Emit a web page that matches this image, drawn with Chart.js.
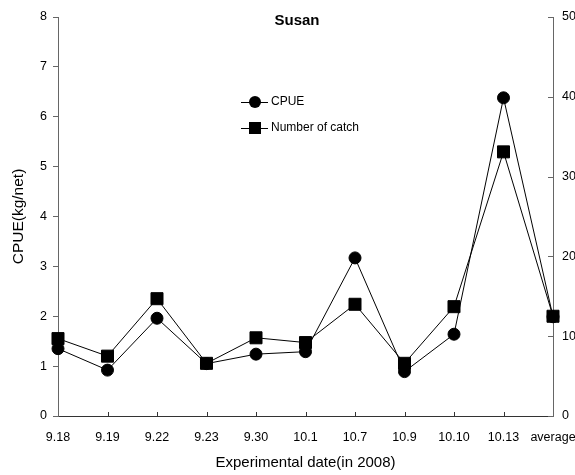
<!DOCTYPE html>
<html>
<head>
<meta charset="utf-8">
<script src="https://cdn.jsdelivr.net/npm/chart.js@4/dist/chart.umd.min.js"></script>
<style>
  html, body { margin: 0; padding: 0; background: #fff; }
  canvas { display: block; }
</style>
</head>
<body>
<canvas id="c" width="575" height="475"></canvas>
<script>
const categories = ['9.18','9.19','9.22','9.23','9.30','10.1','10.7','10.9','10.10','10.13','average'];
const cpue = [1.35, 0.92, 1.96, 1.05, 1.24, 1.29, 3.17, 0.89, 1.64, 6.38, 1.99];
const catchNumber = [9.7, 7.5, 14.7, 6.6, 9.8, 9.2, 14.0, 6.6, 13.7, 33.1, 12.5];
const chartTitle = 'Susan';
const xTitle = 'Experimental date(in 2008)';
const yTitle = 'CPUE(kg/net)';
const seriesNames = ['CPUE', 'Number of catch'];

const FONT = '"Liberation Sans", Arial, sans-serif';

const extras = {
  id: 'extras',
  afterDraw(chart) {
    const ctx = chart.ctx;
    const x = chart.scales.x;
    const y2 = chart.scales.y2;
    ctx.save();
    // inward ticks on x axis
    ctx.strokeStyle = '#333';
    ctx.lineWidth = 1;
    ctx.beginPath();
    for (let i = 1; i < categories.length - 1; i++) {
      const px = Math.round(x.getPixelForTick(i)) + 0.5;
      ctx.moveTo(px, x.top);
      ctx.lineTo(px, x.top - 4);
    }
    ctx.stroke();
    // inward ticks on right axis
    ctx.strokeStyle = '#666';
    ctx.beginPath();
    y2.ticks.forEach((t, i) => {
      const py = Math.round(y2.getPixelForTick(i)) + 0.5;
      ctx.moveTo(y2.left, py);
      ctx.lineTo(y2.left - 5, py);
    });
    ctx.stroke();
    // title
    ctx.fillStyle = '#000';
    ctx.font = 'bold 15px ' + FONT;
    ctx.textAlign = 'center';
    ctx.textBaseline = 'middle';
    ctx.fillText(chartTitle, 297, 21);
    // legend
    ctx.font = '12px ' + FONT;
    ctx.textAlign = 'left';
    const rows = [102, 128];
    chart.data.datasets.forEach((ds, i) => {
      const yy = rows[i];
      ctx.strokeStyle = '#000';
      ctx.lineWidth = 1;
      ctx.beginPath();
      ctx.moveTo(241, yy + 0.5);
      ctx.lineTo(268, yy + 0.5);
      ctx.stroke();
      ctx.fillStyle = '#000';
      if (ds.pointStyle === 'circle') {
        ctx.beginPath();
        ctx.arc(255, yy, 6, 0, Math.PI * 2);
        ctx.fill();
      } else {
        ctx.fillRect(249, yy - 6, 12, 12);
      }
      ctx.fillText(ds.label, 271, yy);
    });
    ctx.restore();
  }
};

new Chart(document.getElementById('c'), {
  type: 'line',
  data: {
    labels: categories,
    datasets: [
      {
        label: seriesNames[0],
        data: cpue,
        yAxisID: 'y',
        borderColor: '#000',
        backgroundColor: '#000',
        borderWidth: 1,
        pointStyle: 'circle',
        pointRadius: 6,
        pointHoverRadius: 6,
        pointBackgroundColor: '#000',
        pointBorderColor: '#000',
        tension: 0,
        clip: false
      },
      {
        label: seriesNames[1],
        data: catchNumber,
        yAxisID: 'y2',
        borderColor: '#000',
        backgroundColor: '#000',
        borderWidth: 1,
        pointStyle: 'rect',
        pointRadius: 8.5,
        pointHoverRadius: 8.5,
        pointBackgroundColor: '#000',
        pointBorderColor: '#000',
        tension: 0,
        clip: false
      }
    ]
  },
  options: {
    responsive: false,
    devicePixelRatio: 1,
    animation: false,
    events: [],
    layout: { padding: { top: 17, left: 0, right: 0, bottom: 0 } },
    plugins: {
      legend: { display: false },
      title: { display: false },
      tooltip: { enabled: false }
    },
    scales: {
      x: {
        type: 'category',
        offset: false,
        grid: { display: true, drawOnChartArea: false, drawTicks: false },
        border: { display: true, color: '#333', width: 1 },
        ticks: {
          autoSkip: false, maxRotation: 0, minRotation: 0,
          padding: 14, color: '#000',
          font: { family: FONT, size: 12.5 }
        },
        title: {
          display: true, text: xTitle, color: '#000',
          font: { family: FONT, size: 15 },
          padding: { top: 0, bottom: 3 }
        },
        afterFit(s) { s.height = 59; s.paddingLeft = 0; s.paddingRight = 0; }
      },
      y: {
        position: 'left',
        min: 0, max: 8,
        grid: { display: true, drawOnChartArea: false, drawTicks: true, tickLength: 5, color: '#666' },
        border: { display: true, color: '#666', width: 1 },
        ticks: {
          stepSize: 1, padding: 6, color: '#000',
          font: { family: FONT, size: 12.5 }
        },
        title: {
          display: true, text: yTitle, color: '#000',
          font: { family: FONT, size: 15.5 },
          padding: { top: 9, bottom: 0 }
        },
        afterFit(s) { s.width = 58; s.paddingTop = 0; s.paddingBottom = 0; }
      },
      y2: {
        position: 'right',
        min: 0, max: 50,
        grid: { display: true, drawOnChartArea: false, drawTicks: false },
        border: { display: true, color: '#666', width: 1 },
        ticks: {
          stepSize: 10, padding: 9, color: '#000',
          font: { family: FONT, size: 12.5 }
        },
        afterFit(s) { s.width = 22; s.paddingTop = 0; s.paddingBottom = 0; }
      }
    }
  },
  plugins: [extras]
});
</script>
</body>
</html>
